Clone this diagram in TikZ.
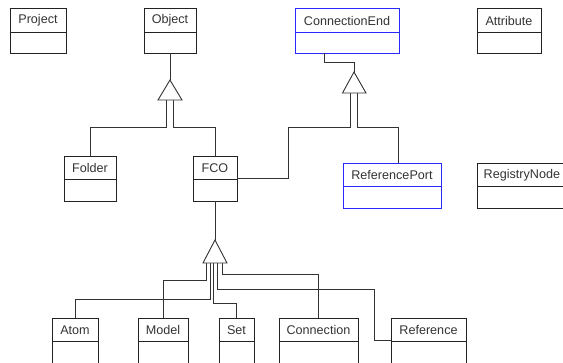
\documentclass[tikz,border=0pt]{standalone}
\usepackage{fontspec}
\setmainfont{Liberation Sans}
\definecolor{lblc}{HTML}{333333}
\definecolor{linec}{HTML}{333333}
\definecolor{boxc}{HTML}{222222}
\definecolor{blueb}{HTML}{2828FF}
\tikzset{
  boxst/.style={line width=0.9pt},
  lbl/.style={text=lblc, font=\fontsize{12.6}{14}\selectfont, inner sep=0pt},
  conn/.style={draw=linec, line width=0.9pt},
  gen/.style={draw=linec, fill=white, line width=0.9pt, line join=miter}
}
\newcommand\umlbox[8]{%
  \node[draw=#1, boxst, inner sep=0pt, minimum width={(#5-#3)*1pt}, minimum height={(#6-#4)*1pt}] (#2) at ({(#3+#5)/2},{(#4+#6)/2}) {};
  \draw[draw=#1, boxst] (#3,#7) -- (#5,#7);
  \node[lbl] (#2-t) at ({(#3+#5)/2},{(#4+#7)/2+0.5}) {#8};
}
\begin{document}
\begin{tikzpicture}[x=1pt,y=-1pt]
\useasboundingbox (0,0) rectangle (563,362);
\clip (0,0) rectangle (563,362);
% classes
\umlbox{boxc}{project}{10}{8}{66}{53}{32}{Project}
\umlbox{boxc}{object}{144}{8}{196}{53}{32}{Object}
\umlbox{blueb}{cend}{295}{8}{399}{53}{32}{ConnectionEnd}
\umlbox{boxc}{attr}{477}{8}{541}{53}{32}{Attribute}
\umlbox{boxc}{folder}{64}{156}{116}{201}{179}{Folder}
\umlbox{boxc}{fco}{193}{156}{237}{201}{179}{FCO}
\umlbox{blueb}{refport}{343}{163}{441}{208}{186}{ReferencePort}
\umlbox{boxc}{regnode}{477}{163}{590}{208}{186}{}
\node[lbl, anchor=west] (regnode-tt) at (483.5,175) {RegistryNode};
\umlbox{boxc}{atom}{52}{318}{98}{364}{341}{Atom}
\umlbox{boxc}{model}{138}{318}{188}{364}{341}{Model}
\umlbox{boxc}{set}{219}{318}{254}{364}{341}{Set}
\umlbox{boxc}{connection}{279}{318}{358}{364}{341}{Connection}
\umlbox{boxc}{reference}{391}{318}{466}{364}{341}{Reference}

% generalization 1: Object
\coordinate (g1) at (170,80);
\coordinate (g1l) at (166,100);
\coordinate (g1r) at (173,100);
\draw[conn] (object.south) -- (g1);
\draw[conn] (g1l) -- (166,127) -| (folder.north);
\draw[conn] (g1r) -- (173,127) -| (fco.north);
\draw[gen] (g1) -- (158,100) -- (182,100) -- cycle;

% generalization 2: ConnectionEnd
\coordinate (g2) at (354,72);
\coordinate (g2l) at (350,93);
\coordinate (g2r) at (357,93);
\draw[conn] (324,53) -- (324,62) -| (g2);
\draw[conn] (fco.east |- 0,178) -- (288,178) |- (350,127) -- (g2l);
\draw[conn] (g2r) -- (357,127) -| (398,163);
\draw[gen] (g2) -- (342.5,93) -- (366,93) -- cycle;

% generalization 3: FCO
\coordinate (g3) at (215,240);
\draw[conn] (fco.south -| g3) -- (g3);
\draw[conn] (206,263) -- (206,280) -| (model.north);
\draw[conn] (210,263) -- (210,299) -| (atom.north);
\draw[conn] (213,263) -- (213,303) -| (set.north);
\draw[conn] (217,263) -- (217,289) -| (374,340) -- (reference.west |- 0,340);
\draw[conn] (222,263) -- (222,274) -| (connection.north);
\draw[gen] (g3) -- (203,263) -- (227,263) -- cycle;
\end{tikzpicture}
\end{document}
